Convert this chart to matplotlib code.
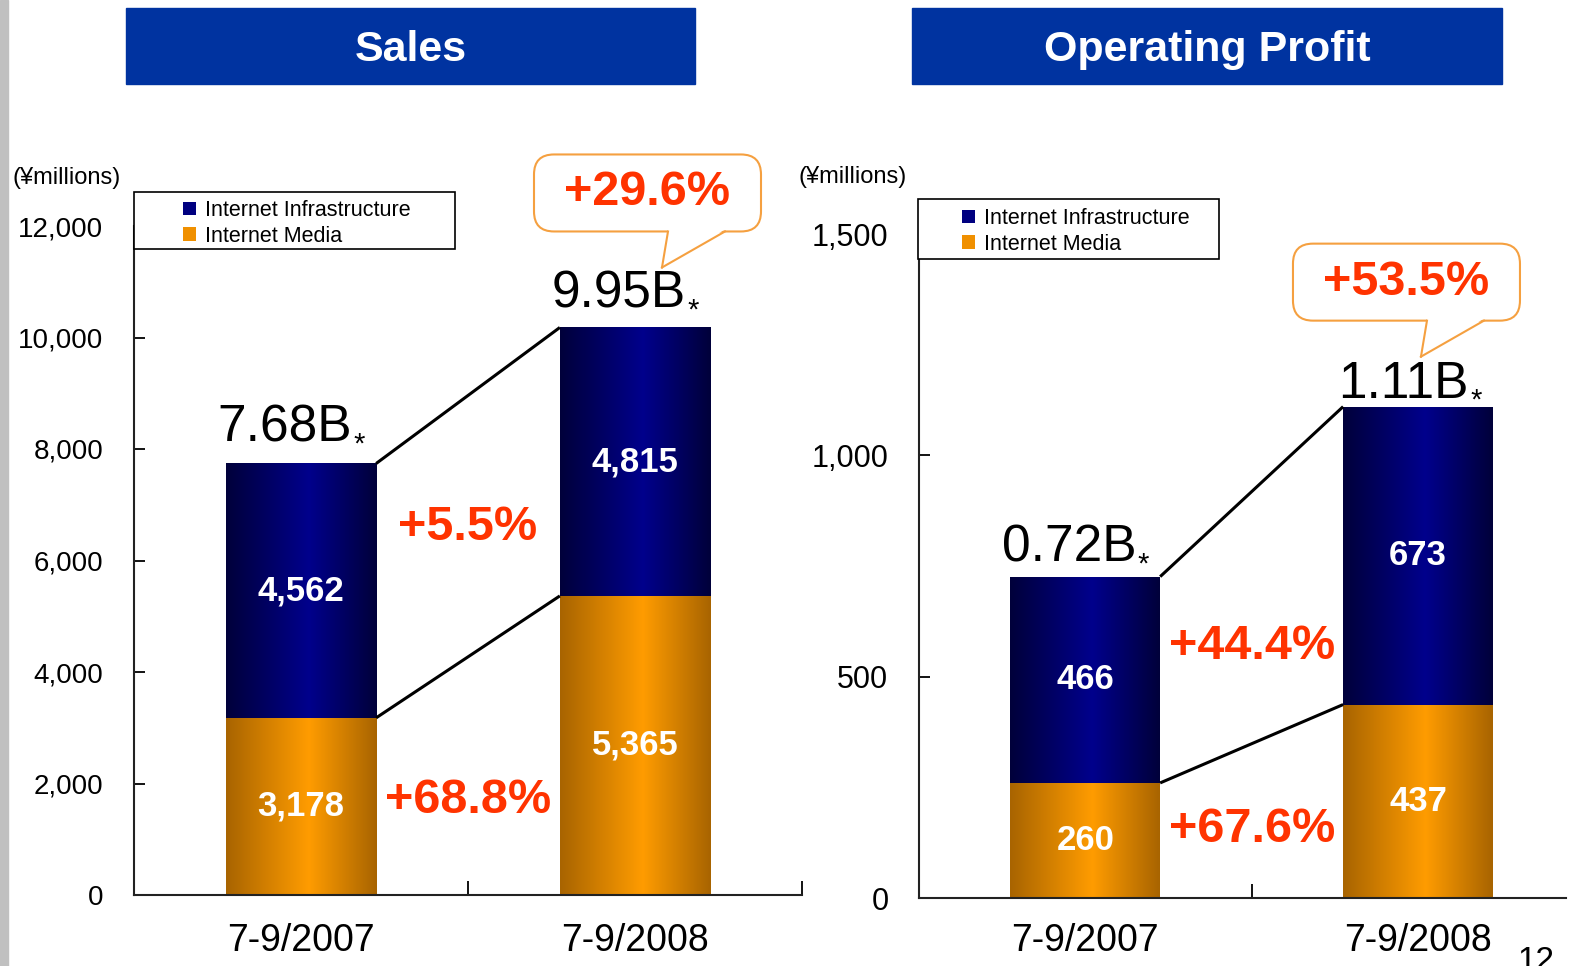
import numpy as np
import matplotlib
matplotlib.use("Agg")
import matplotlib.pyplot as plt
from matplotlib.colors import LinearSegmentedColormap
from matplotlib.patches import Rectangle, FancyBboxPatch, Polygon
from matplotlib.lines import Line2D
from matplotlib.transforms import IdentityTransform

plt.rcParams["font.family"] = ["Liberation Sans", "DejaVu Sans"]

W, H = 1576, 966

# data
periods = ["7-9/2007", "7-9/2008"]
segments = ["Internet Infrastructure", "Internet Media"]
sales_media = [3178, 5365]
sales_infra = [4562, 4815]
sales_total_labels = ["7.68B", "9.95B"]
sales_growth = ["+29.6%", "+5.5%", "+68.8%"]  # total, infra, media
profit_media = [260, 437]
profit_infra = [466, 673]
profit_total_labels = ["0.72B", "1.11B"]
profit_growth = ["+53.5%", "+44.4%", "+67.6%"]

NAVY = "#000080"
ORANGE = "#F09000"
RED = "#FF3300"
BANNER = "#0033A0"
CALLOUT_EDGE = "#F5A040"

navy_cmap = LinearSegmentedColormap.from_list(
    "navy", [(0, "#00003A"), (0.55, "#00008C"), (1, "#00003A")])
orange_cmap = LinearSegmentedColormap.from_list(
    "orange", [(0, "#A86400"), (0.55, "#FF9C00"), (1, "#A86400")])

BAR_W = 0.45


def px_rect(x0, y0, x1, y1):
    """pixel box (top-left origin) -> figure fraction rect"""
    return [x0 / W, 1 - y1 / H, (x1 - x0) / W, (y1 - y0) / H]


def shade_bars(ax, bars, cmap):
    grad = np.linspace(0, 1, 256).reshape(1, -1)
    for b in bars:
        x0, y0 = b.get_x(), b.get_y()
        im = ax.imshow(grad, cmap=cmap, aspect="auto", zorder=2.1,
                       extent=(x0, x0 + b.get_width(), y0, y0 + b.get_height()))
        im.set_clip_path(b)


def callout(fig, ax, xy, off, text):
    """speech bubble; off = tip offset in pixels from data point"""
    tx, ty = ax.transData.transform(xy)
    tx, ty = tx + off[0], ty + off[1]
    bx0, bx1, by0, by1 = tx - 128, tx + 99, ty + 36, ty + 113
    box = FancyBboxPatch((bx0, by0), bx1 - bx0, by1 - by0,
                         boxstyle="round,pad=0,rounding_size=20",
                         transform=IdentityTransform(), fc="white",
                         ec=CALLOUT_EDGE, lw=1.5, zorder=5)
    fig.add_artist(box)
    t0, t1 = tx + 6, tx + 63
    tail = Polygon([(t0, by0 + 2), (t1, by0 + 2), (tx, ty)], closed=True,
                   transform=IdentityTransform(), fc="white", ec="none", zorder=6)
    fig.add_artist(tail)
    for bx in (t0, t1):
        fig.add_artist(Line2D([bx, tx], [by0, ty], color=CALLOUT_EDGE, lw=1.5,
                              transform=IdentityTransform(), zorder=7))
    fig.text((bx0 + bx1) / 2 / W, (by0 + by1) / 2 / H, text, ha="center",
             va="center", color=RED, fontsize=35, fontweight="bold", zorder=8)


def draw_panel(fig, rect, xmax, ymax, yticks, ysize, xpad, media, infra,
               totals, total_gap, growth, growth_y, tip_off, legend_px,
               frame_px, unit_px):
    ax = fig.add_axes(rect)
    x = np.arange(len(periods))
    b1 = ax.bar(x, media, BAR_W, color=ORANGE, label=segments[1], zorder=2)
    b2 = ax.bar(x, infra, BAR_W, bottom=media, color=NAVY, label=segments[0], zorder=2)
    shade_bars(ax, b1, orange_cmap)
    shade_bars(ax, b2, navy_cmap)

    tot = [m + i for m, i in zip(media, infra)]
    # connectors between the two bars
    for ys in (tot, media):
        ax.plot([x[0] + BAR_W / 2, x[1] - BAR_W / 2], ys, color="black",
                lw=2.2, zorder=3, solid_capstyle="butt")

    for i in x:
        ax.text(i, media[i] / 2, f"{media[i]:,}", ha="center", va="center",
                color="white", fontsize=25, fontweight="bold", zorder=4)
        ax.text(i, media[i] + infra[i] / 2, f"{infra[i]:,}", ha="center",
                va="center", color="white", fontsize=25, fontweight="bold",
                zorder=4)
        ax.annotate(totals[i], (i, tot[i]), xytext=(51, total_gap[i]),
                    textcoords="offset pixels", ha="right", va="baseline",
                    fontsize=37, zorder=4)
        ax.annotate("*", (i, tot[i]), xytext=(52, total_gap[i] - 11),
                    textcoords="offset pixels", ha="left", va="baseline",
                    fontsize=21, zorder=4)

    ax.text(0.5, growth_y[0], growth[1], ha="center", va="center", color=RED,
            fontsize=35, fontweight="bold", zorder=4)
    ax.text(0.5, growth_y[1], growth[2], ha="center", va="center", color=RED,
            fontsize=35, fontweight="bold", zorder=4)

    for s in ("top", "right"):
        ax.spines[s].set_visible(False)
    for s in ("left", "bottom"):
        ax.spines[s].set_linewidth(1.5)
        ax.spines[s].set_color("#222222")
    ax.set_yticks(yticks)
    ax.set_yticklabels([f"{v:,}" for v in yticks])
    ax.tick_params(axis="y", direction="in", length=8, width=1.3,
                   labelsize=ysize, pad=22)
    ax.set_xticks(x)
    ax.set_xticklabels(periods)
    ax.set_xticks([0.5, 1.5], minor=True)
    ax.tick_params(axis="x", which="major", length=0, labelsize=27, pad=xpad)
    ax.tick_params(axis="x", which="minor", direction="in", length=10, width=1.3)
    # limits last: set_xticks would widen them
    ax.set_xlim(-0.5, xmax)
    ax.set_ylim(0, ymax)

    fig.text(unit_px[0] / W, 1 - unit_px[1] / H, "(¥millions)", ha="left",
             va="center", fontsize=17)

    fx0, fy0, fx1, fy1 = frame_px
    fig.add_artist(Rectangle((fx0 / W, 1 - fy1 / H), (fx1 - fx0) / W,
                             (fy1 - fy0) / H, transform=fig.transFigure,
                             fc="white", ec="black", lw=1.2, zorder=4))
    leg = fig.legend(handles=[b2, b1], labels=segments, loc="upper left",
                     bbox_to_anchor=(legend_px[0] / W, 1 - legend_px[1] / H),
                     frameon=False, fontsize=15.5, handlelength=0.6,
                     handleheight=0.6, handletextpad=0.4, labelspacing=0.22,
                     borderpad=0, borderaxespad=0)
    leg.set_zorder(6)

    callout(fig, ax, (1, tot[1]), tip_off, growth[0])
    return ax


fig = plt.figure(figsize=(W / 100, H / 100), dpi=100)
fig.add_artist(Rectangle((0, 0), 8 / W, 1, transform=fig.transFigure,
                         color="#C0C0C0", zorder=0))

for (x0, x1), title in (((126, 695), "Sales"), ((912, 1502), "Operating Profit")):
    r = px_rect(x0, 8, x1, 84)
    fig.add_artist(Rectangle((r[0], r[1]), r[2], r[3], transform=fig.transFigure,
                             color=BANNER, zorder=1))
    fig.text(r[0] + r[2] / 2, r[1] + r[3] / 2 - 4 / H, title, ha="center",
             va="center", color="white", fontsize=31, fontweight="bold")

draw_panel(fig, px_rect(134, 226, 802, 895), 1.5, 12000,
           [0, 2000, 4000, 6000, 8000, 10000, 12000], 20, 20,
           sales_media, sales_infra, sales_total_labels, (22, 20), sales_growth,
           (6600, 1700), (27, 60), (183, 200), (134, 192, 455, 249), (12, 178))

draw_panel(fig, px_rect(919, 234, 1566, 898), 1.445, 1500,
           [0, 500, 1000, 1500], 22, 18,
           profit_media, profit_infra, profit_total_labels, (15, 9), profit_growth,
           (568, 155), (3, 50), (962, 208), (918, 199, 1219, 259), (799, 177))

fig.text(1518 / W, 1 - 946 / H, "12", ha="left", va="top", fontsize=24)

fig.savefig("out.png", dpi=100)
